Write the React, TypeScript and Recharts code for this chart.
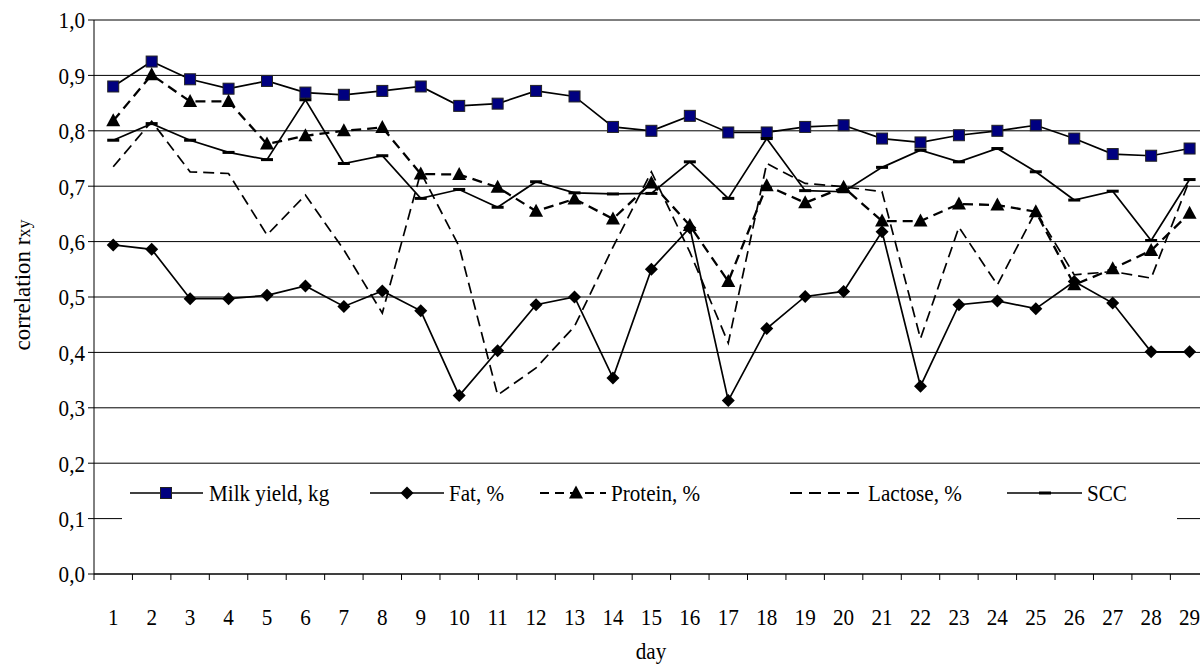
import React from 'react';
import { LineChart, Line, XAxis, YAxis, CartesianGrid } from 'recharts';

const days = [1, 2, 3, 4, 5, 6, 7, 8, 9, 10, 11, 12, 13, 14, 15, 16, 17, 18, 19, 20, 21, 22, 23, 24, 25, 26, 27, 28, 29];
const milkYield = [0.880, 0.925, 0.893, 0.876, 0.890, 0.869, 0.865, 0.872, 0.880, 0.845, 0.849, 0.872, 0.862, 0.807, 0.800, 0.827, 0.797, 0.797, 0.807, 0.810, 0.786, 0.779, 0.792, 0.800, 0.810, 0.786, 0.758, 0.755, 0.768];
const fat = [0.594, 0.586, 0.497, 0.497, 0.503, 0.520, 0.483, 0.511, 0.475, 0.322, 0.403, 0.486, 0.500, 0.354, 0.550, 0.625, 0.313, 0.443, 0.501, 0.510, 0.618, 0.339, 0.486, 0.493, 0.479, 0.528, 0.489, 0.401, 0.401];
const protein = [0.818, 0.901, 0.853, 0.853, 0.776, 0.791, 0.800, 0.806, 0.722, 0.721, 0.698, 0.655, 0.677, 0.641, 0.706, 0.629, 0.528, 0.701, 0.670, 0.698, 0.637, 0.637, 0.668, 0.666, 0.654, 0.522, 0.551, 0.584, 0.651];
const lactose = [0.735, 0.817, 0.726, 0.723, 0.612, 0.684, 0.585, 0.471, 0.725, 0.591, 0.323, 0.372, 0.447, 0.590, 0.726, 0.581, 0.417, 0.741, 0.705, 0.699, 0.690, 0.425, 0.626, 0.522, 0.655, 0.540, 0.546, 0.534, 0.711];
const scc = [0.783, 0.813, 0.783, 0.761, 0.748, 0.856, 0.741, 0.755, 0.678, 0.694, 0.662, 0.708, 0.688, 0.686, 0.687, 0.744, 0.678, 0.786, 0.692, 0.690, 0.734, 0.765, 0.744, 0.768, 0.726, 0.675, 0.691, 0.602, 0.712];

const yTicks = [0, 0.1, 0.2, 0.3, 0.4, 0.5, 0.6, 0.7, 0.8, 0.9, 1.0];
const seriesNames = ['Milk yield, kg', 'Fat, %', 'Protein, %', 'Lactose, %', 'SCC'];
const xTitle = 'day';
const yTitle = 'correlation r';
const yTitleSub = 'xy';

const data = days.map((d, i) => ({
  day: d,
  milk: milkYield[i],
  fat: fat[i],
  protein: protein[i],
  lactose: lactose[i],
  scc: scc[i],
}));
const xTicks: number[] = [];
days.forEach((d) => { xTicks.push(d - 0.5); xTicks.push(d); });
xTicks.push(days[days.length - 1] + 0.5);

const FONT = "'Liberation Serif', 'Times New Roman', Times, serif";
const FS = 24;
const SX = 0.88;

const SText = ({ x, y, anchor, size = FS, sx = SX, children }: any) => (
  <text
    transform={`translate(${x},${y}) scale(${sx},1)`}
    textAnchor={anchor}
    dy="0.35em"
    style={{ fontFamily: FONT, fontSize: size }}
    fill="#000"
  >
    {children}
  </text>
);

const XTick = (props: any) => {
  const { x, y, payload } = props;
  const v = payload.value;
  if (!Number.isInteger(v)) {
    return <line x1={x} y1={y} x2={x} y2={y + 6} stroke="#000" strokeWidth={1} />;
  }
  return <SText x={x} y={y + 43} anchor="middle">{String(v)}</SText>;
};

const YTick = (props: any) => {
  const { x, y, payload } = props;
  return <SText x={x} y={y} anchor="end">{Number(payload.value).toFixed(1).replace('.', ',')}</SText>;
};

const Square = ({ cx, cy }: any) => (
  <rect x={cx - 5.5} y={cy - 5.5} width={11} height={11} fill="#000080" stroke="#222" strokeWidth={1} />
);
const Diamond = ({ cx, cy }: any) => (
  <polygon points={`${cx},${cy - 6.5} ${cx + 6.5},${cy} ${cx},${cy + 6.5} ${cx - 6.5},${cy}`} fill="#000" />
);
const Triangle = ({ cx, cy }: any) => (
  <polygon points={`${cx},${cy - 7.5} ${cx + 7},${cy + 5.5} ${cx - 7},${cy + 5.5}`} fill="#000" />
);
const Dash = ({ cx, cy }: any) => (
  <rect x={cx - 6} y={cy - 1.5} width={12} height={3} fill="#000" />
);

const LegendOverlay = () => {
  const cy = 493;
  return (
    <svg width={1200} height={668} style={{ position: 'absolute', left: 0, top: 0, pointerEvents: 'none' }}>
      <rect x={122} y={470} width={1055} height={55} fill="#fff" />
      <line x1={130} y1={cy} x2={203} y2={cy} stroke="#000" strokeWidth={1.5} />
      <Square cx={166} cy={cy} />
      <SText x={209} y={cy} anchor="start">{seriesNames[0]}</SText>

      <line x1={370} y1={cy} x2={444} y2={cy} stroke="#000" strokeWidth={1.5} />
      <Diamond cx={407} cy={cy} />
      <SText x={449} y={cy} anchor="start">{seriesNames[1]}</SText>

      <line x1={540} y1={cy} x2={606} y2={cy} stroke="#000" strokeWidth={2} strokeDasharray="9 6" />
      <Triangle cx={576} cy={cy} />
      <SText x={611} y={cy} anchor="start">{seriesNames[2]}</SText>

      <line x1={790} y1={cy} x2={860} y2={cy} stroke="#000" strokeWidth={1.8} strokeDasharray="12 7" />
      <SText x={868} y={cy} anchor="start">{seriesNames[3]}</SText>

      <line x1={1007} y1={cy} x2={1082} y2={cy} stroke="#000" strokeWidth={1.5} />
      <Dash cx={1045} cy={cy} />
      <SText x={1087} y={cy} anchor="start">{seriesNames[4]}</SText>
    </svg>
  );
};

export default function App() {
  return (
    <div style={{ position: 'fixed', left: 0, top: 0, width: 1200, height: 668, overflow: 'hidden', background: '#fff', fontFamily: FONT }}>
      <LineChart
        width={1215}
        height={668}
        data={data}
        margin={{ top: 20, right: 6.2, left: 34, bottom: 0 }}
      >
        <CartesianGrid horizontal vertical={false} stroke="#000" strokeWidth={1} />
        <XAxis
          dataKey="day"
          type="number"
          domain={[0.5, 29.5]}
          ticks={xTicks}
          interval={0}
          tickLine={false}
          tickSize={0}
          tickMargin={0}
          tick={<XTick />}
          axisLine={{ stroke: '#000', strokeWidth: 1 }}
          height={94}
          allowDecimals
        />
        <YAxis
          type="number"
          domain={[0, 1]}
          ticks={yTicks}
          interval={0}
          width={60}
          tickSize={6}
          tickMargin={3}
          tickLine={{ stroke: '#000' }}
          axisLine={{ stroke: '#000', strokeWidth: 1 }}
          tick={<YTick />}
        />
        <Line dataKey="milk" stroke="#000" strokeWidth={1.7} dot={<Square />} isAnimationActive={false} />
        <Line dataKey="fat" stroke="#000" strokeWidth={1.7} dot={<Diamond />} isAnimationActive={false} />
        <Line dataKey="protein" stroke="#000" strokeWidth={2.3} strokeDasharray="10 6" dot={<Triangle />} isAnimationActive={false} />
        <Line dataKey="lactose" stroke="#000" strokeWidth={1.7} strokeDasharray="11 6" dot={false} isAnimationActive={false} />
        <Line dataKey="scc" stroke="#000" strokeWidth={1.7} dot={<Dash />} isAnimationActive={false} />
      </LineChart>
      <svg width={1200} height={668} style={{ position: 'absolute', left: 0, top: 0, pointerEvents: 'none' }}>
        <text transform="translate(22,285) rotate(-90)" textAnchor="middle" dy="0.35em" style={{ fontFamily: FONT, fontSize: 23 }} fill="#000">
          {yTitle}<tspan style={{ fontSize: 18 }}>{yTitleSub}</tspan>
        </text>
        <SText x={651} y={651} anchor="middle">{xTitle}</SText>
      </svg>
      <LegendOverlay />
    </div>
  );
}
